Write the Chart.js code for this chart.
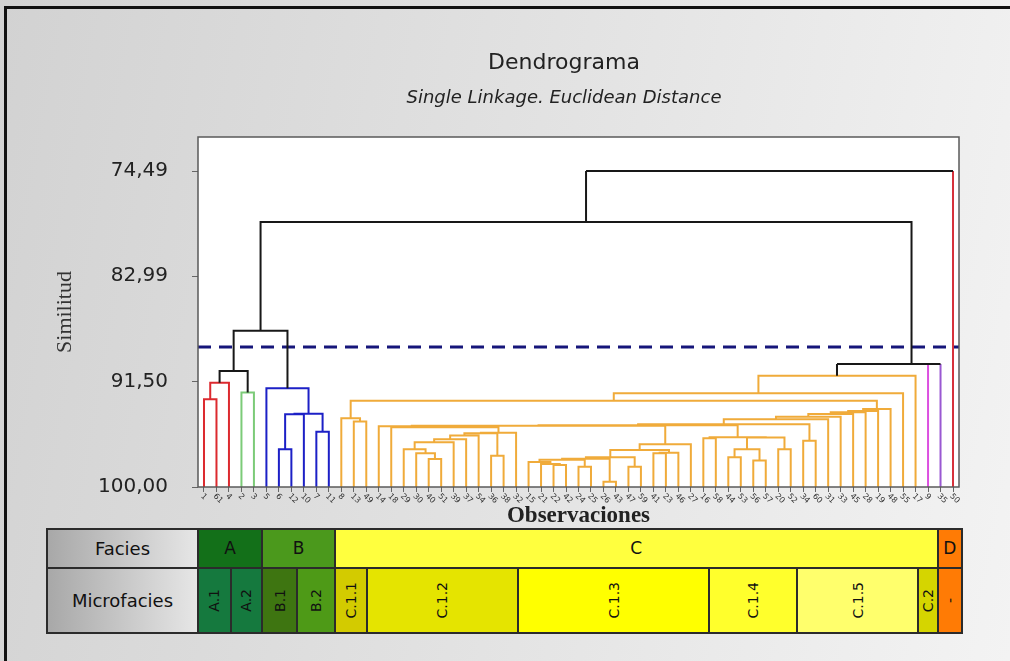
<!DOCTYPE html>
<html lang="es">
<head>
<meta charset="utf-8">
<title>Dendrograma</title>
<script src="https://cdn.jsdelivr.net/npm/chart.js@4.4.1/dist/chart.umd.min.js"></script>
<style>
  html, body { margin: 0; padding: 0; }
  body {
    width: 1010px; height: 661px; overflow: hidden; position: relative;
    background: linear-gradient(100deg, #d2d2d2 0%, #e2e2e2 50%, #f3f3f3 100%);
    font-family: "DejaVu Sans", Verdana, sans-serif;
  }
  #frame {
    position: absolute; left: 4px; top: 6px; width: 1010px; height: 660px;
    border-left: 3px solid #111; border-top: 3px solid #111;
  }
  #chart-box { position: absolute; left: 0; top: 0; width: 1010px; height: 661px; }
  .title { position: absolute; left: 264px; width: 600px; text-align: center; color: #222; }
  #title { top: 49px; font-size: 22px; line-height: 26px; }
  #subtitle { top: 86px; font-size: 18px; line-height: 22px; font-style: italic; }
  #facies { position: absolute; left: 47px; top: 529px; width: 915px; height: 104px;
    background: #2b2b2b; outline: 1px solid #2b2b2b; }
  .cell { position: absolute; display: flex; align-items: center; justify-content: center;
    color: #111; box-sizing: border-box; }
  .head { font-size: 18px; background: linear-gradient(to right, #a8a8a8, #e6e6e6); }
  .fac { font-size: 17px; }
  .micro span { font-size: 14px; writing-mode: vertical-rl; transform: rotate(180deg); }
</style>
</head>
<body>
<div id="frame"></div>
<div id="chart-box"><canvas id="dendro"></canvas></div>
<div class="title" id="title">Dendrograma</div>
<div class="title" id="subtitle">Single Linkage. Euclidean Distance</div>
<div id="facies"></div>

<script>
// 1. Data.

// Observation numbers, in the order the leaves appear along the x axis.
const leafLabels = ["1", "61", "4", "2", "3", "5", "6", "12", "10", "7", "11",
  "8", "13", "49", "14", "18", "29", "30", "40", "51", "39", "37", "54", "36", "38", "32",
  "15", "21", "22", "42", "24", "25", "26", "43", "47", "59", "41", "23", "46", "27",
  "16", "58", "44", "53", "56", "57", "20", "52", "34", "60",
  "31", "33", "45", "28", "19", "48", "55", "17", "9", "35", "50"];

// Merges, bottom-up: [first leaf, last leaf of left branch, last leaf, similarity %]
// (leaves are positions in leafLabels, every cluster is a run of neighbours)
const linkage = [
  [0, 0, 1, 92.92], [0, 1, 2, 91.58], [3, 3, 4, 92.38], [0, 2, 4, 90.63],
  [6, 6, 7, 96.95], [6, 7, 8, 94.13], [9, 9, 10, 95.53], [6, 8, 10, 94.08], [5, 5, 10, 92.03],
  [0, 4, 10, 87.38],
  // C.1.1
  [12, 12, 13, 94.72], [11, 11, 13, 94.45],
  // C.1.2
  [18, 18, 19, 97.73], [17, 17, 19, 97.27], [16, 16, 19, 96.95], [16, 19, 20, 96.39],
  [16, 20, 21, 96.14], [16, 21, 22, 95.85], [23, 23, 24, 97.47], [16, 22, 24, 95.66],
  [16, 24, 25, 95.62], [15, 15, 25, 95.18], [14, 14, 25, 95.10],
  // C.1.3
  [28, 28, 29, 98.22], [27, 27, 29, 98.14], [26, 26, 29, 97.98], [30, 30, 31, 98.36],
  [26, 29, 31, 97.81], [32, 32, 33, 99.57], [26, 31, 33, 97.72], [34, 34, 35, 98.36],
  [26, 33, 35, 97.60], [36, 36, 37, 97.27], [36, 37, 38, 97.23], [26, 35, 38, 97.01],
  [26, 38, 39, 96.55],
  // C.1.4 and first part of C.1.5
  [40, 40, 41, 96.06], [42, 42, 43, 97.60], [44, 44, 45, 97.87], [42, 43, 45, 96.95],
  [46, 46, 47, 96.95], [42, 45, 47, 96.00], [40, 41, 47, 95.98], [48, 48, 49, 96.26],
  // chaining of C
  [14, 25, 39, 95.06], [14, 39, 47, 95.01], [14, 47, 49, 94.93], [14, 49, 50, 94.53],
  [14, 50, 51, 94.32], [14, 51, 52, 94.10], [14, 52, 53, 93.97], [14, 53, 54, 93.86],
  [14, 54, 55, 93.70], [11, 13, 55, 93.03], [11, 55, 56, 92.43], [11, 56, 57, 91.01],
  // top of the tree
  [11, 57, 58, 90.08], [11, 58, 59, 90.07], [0, 10, 59, 78.61], [0, 59, 60, 74.49],
];

const yTickValues = [74.49, 82.99, 91.50, 100.00];
const cutSimilarity = 88.69;

// Coloured groups, as runs of leaves
const groupFirst = [0, 3, 5, 11, 58, 59, 60];
const groupLast = [2, 4, 10, 57, 58, 59, 60];

// Facies table below the chart
const faciesNames = ["A", "B", "C", "D"];
const microfaciesNames = ["A.1", "A.2", "B.1", "B.2", "C.1.1", "C.1.2", "C.1.3", "C.1.4", "C.1.5", "C.2", "-"];

// 2. Styles and layout.
const groupColors = ["#dc2a2f", "#7ccb78", "#1c20c6", "#f0ab3a", "#dc50e0", "#9a58d2", "#d6313b"];
const linkColor = "#181818";
const faciesColors = ["#137019", "#4b991c", "#ffff3e", "#ff7b05"];
const microColors = ["#15793e", "#15793e", "#3e7511", "#4e9a17", "#d3cb00", "#e5e400",
  "#ffff00", "#ffff2c", "#ffff6c", "#d5d500", "#ff7b05"];
const faciesEdges = [151, 215, 288, 890.5, 915];        // px inside the table box
const microEdges = [151, 183.7, 215, 250.3, 288, 319.7, 471.3, 662.3, 750.3, 871.3, 891, 915];
const rowEdges = [0, 38.5, 104];

const X_MIN = -0.48, X_MAX = 60.48;
const Y_MIN = 71.745, Y_MAX = 100;

// 3. Work out where every node sits.
const key = (lo, hi) => lo + "-" + hi;
const nodeX = {};
const nodeH = {};
leafLabels.forEach((_, i) => { nodeX[key(i, i)] = i; nodeH[key(i, i)] = 100; });
linkage.forEach(([lo, mid, hi, sim]) => {
  nodeX[key(lo, hi)] = (nodeX[key(lo, mid)] + nodeX[key(mid + 1, hi)]) / 2;
  nodeH[key(lo, hi)] = sim;
});

function groupOf(lo, hi) {
  return groupFirst.findIndex((first, g) => lo >= first && hi <= groupLast[g]);
}

// one polyline per colour, broken with null points
const paths = {};
function addPath(color, pts) {
  if (!paths[color]) paths[color] = [];
  paths[color].push(...pts, { x: pts[0].x, y: null });
}

linkage.forEach(([lo, mid, hi, sim]) => {
  const g = groupOf(lo, hi);
  const mergeColor = g >= 0 ? groupColors[g] : linkColor;
  const kids = [[lo, mid], [mid + 1, hi]].map(([a, b]) => {
    const leafGroup = a === b ? groupOf(a, b) : -1;
    return {
      x: nodeX[key(a, b)],
      h: nodeH[key(a, b)],
      color: leafGroup >= 0 ? groupColors[leafGroup] : mergeColor,
    };
  });
  const [L, R] = kids;
  if (L.color === mergeColor && R.color === mergeColor) {
    addPath(mergeColor, [{ x: L.x, y: L.h }, { x: L.x, y: sim }, { x: R.x, y: sim }, { x: R.x, y: R.h }]);
  } else {
    addPath(L.color, [{ x: L.x, y: L.h }, { x: L.x, y: sim }]);
    addPath(R.color, [{ x: R.x, y: R.h }, { x: R.x, y: sim }]);
    addPath(mergeColor, [{ x: L.x, y: sim }, { x: R.x, y: sim }]);
  }
});

const datasets = Object.keys(paths).map((color) => ({
  data: paths[color],
  borderColor: color,
  borderWidth: 2,
  pointRadius: 0,
  tension: 0,
  spanGaps: false,
  borderJoinStyle: "miter",
  order: color === linkColor ? 0 : 1,
}));

datasets.push({
  data: [{ x: X_MIN, y: cutSimilarity }, { x: X_MAX, y: cutSimilarity }],
  borderColor: "#16167a",
  borderWidth: 3,
  borderDash: [13, 8],
  pointRadius: 0,
  order: 2,
});

// white plot area with a grey frame
const plotFrame = {
  id: "plotFrame",
  beforeDraw(chart) {
    const { ctx, chartArea: a } = chart;
    ctx.save();
    ctx.fillStyle = "#ffffff";
    ctx.fillRect(a.left, a.top, a.right - a.left, a.bottom - a.top);
    ctx.restore();
  },
  afterDatasetsDraw(chart) {
    const { ctx, chartArea: a } = chart;
    ctx.save();
    ctx.strokeStyle = "#5a5a5a";
    ctx.lineWidth = 1.5;
    ctx.strokeRect(a.left, a.top, a.right - a.left, a.bottom - a.top);
    ctx.restore();
  },
};

// leaf labels slanting down to the right, starting at each tick
const leafTickLabels = {
  id: "leafTickLabels",
  afterDraw(chart) {
    const { ctx, scales: { x } } = chart;
    ctx.save();
    ctx.font = '8px "DejaVu Sans", Verdana, sans-serif';
    ctx.fillStyle = "#333";
    ctx.textAlign = "left";
    ctx.textBaseline = "middle";
    x.ticks.forEach((t) => {
      ctx.save();
      ctx.translate(x.getPixelForValue(t.value) - 2, x.top + 8);
      ctx.rotate(Math.PI / 4);
      ctx.fillText(leafLabels[t.value], 0, 0);
      ctx.restore();
    });
    ctx.restore();
  },
};

Chart.defaults.font.family = '"DejaVu Sans", Verdana, sans-serif';
Chart.defaults.color = "#222";

new Chart(document.getElementById("dendro"), {
  type: "line",
  data: { datasets },
  plugins: [plotFrame, leafTickLabels],
  options: {
    responsive: true,
    maintainAspectRatio: false,
    animation: false,
    events: [],
    layout: { padding: { top: 137, right: 51, left: 0, bottom: 0 } },
    plugins: { legend: { display: false }, tooltip: { enabled: false } },
    scales: {
      x: {
        type: "linear",
        min: X_MIN,
        max: X_MAX,
        afterFit: (scale) => { scale.height = 174; },
        afterBuildTicks: (scale) => { scale.ticks = leafLabels.map((_, i) => ({ value: i })); },
        grid: { drawOnChartArea: false, tickLength: 5, color: "#666" },
        border: { display: false },
        ticks: { display: false, autoSkip: false },
        title: {
          display: true,
          text: "Observaciones",
          font: { family: '"Liberation Serif", "Times New Roman", serif', size: 23, weight: "bold" },
          color: "#222",
          padding: { top: 0, bottom: 131 },
        },
      },
      y: {
        type: "linear",
        reverse: true,
        min: Y_MIN,
        max: Y_MAX,
        afterFit: (scale) => { scale.width = 198; },
        afterBuildTicks: (scale) => { scale.ticks = yTickValues.map((v) => ({ value: v })); },
        grid: { drawOnChartArea: false, tickLength: 6, color: "#666" },
        border: { display: false },
        ticks: {
          padding: 24,
          font: { size: 20 },
          color: "#222",
          callback: (value) => value.toFixed(2).replace(".", ","),
        },
        title: {
          display: true,
          text: "Similitud",
          font: { family: '"Liberation Serif", "Times New Roman", serif', size: 22 },
          color: "#333",
          padding: { top: 52, bottom: 0 },
        },
      },
    },
  },
});

// 4. Facies / microfacies table.
const table = document.getElementById("facies");
function addCell(x0, x1, y0, y1, cls, bg, html) {
  const d = document.createElement("div");
  d.className = "cell " + cls;
  d.style.left = (x0 + 1) + "px";
  d.style.width = (x1 - x0 - 2) + "px";
  d.style.top = (y0 + 1) + "px";
  d.style.height = (y1 - y0 - 2) + "px";
  if (bg) d.style.background = bg;
  d.innerHTML = html;
  table.appendChild(d);
}
addCell(0, faciesEdges[0], rowEdges[0], rowEdges[1], "head", null, "Facies");
addCell(0, microEdges[0], rowEdges[1], rowEdges[2], "head", null, "Microfacies");
faciesNames.forEach((name, i) => {
  addCell(faciesEdges[i], faciesEdges[i + 1], rowEdges[0], rowEdges[1], "fac", faciesColors[i], name);
});
microfaciesNames.forEach((name, i) => {
  addCell(microEdges[i], microEdges[i + 1], rowEdges[1], rowEdges[2], "micro", microColors[i], "<span>" + name + "</span>");
});
</script>
</body>
</html>
